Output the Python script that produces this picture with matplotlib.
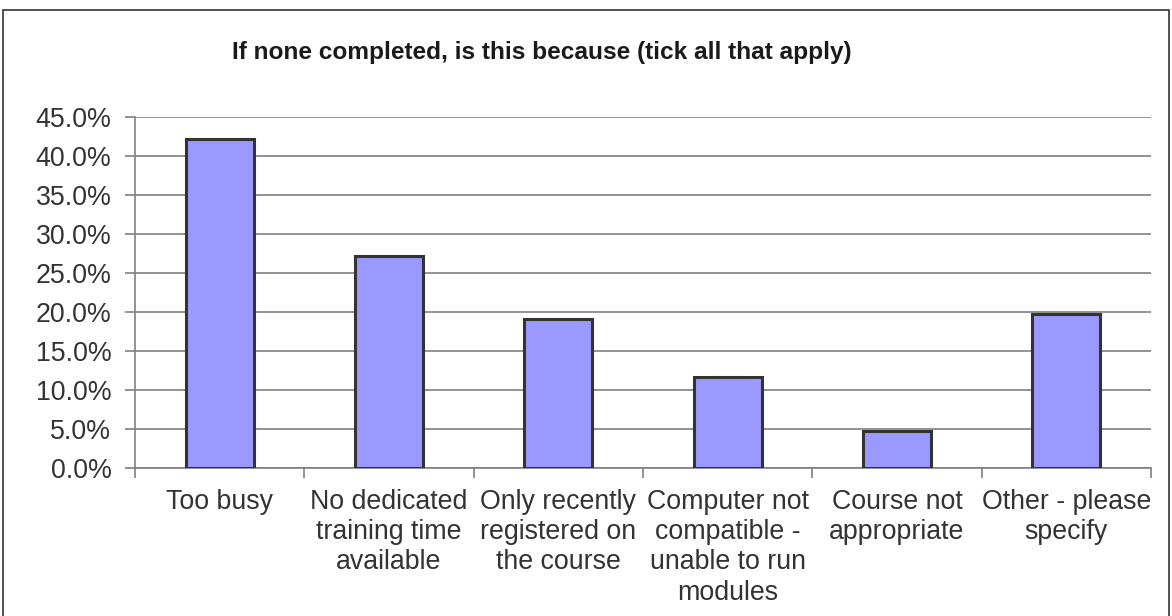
import matplotlib.pyplot as plt
from matplotlib.patches import Rectangle
from matplotlib.ticker import FuncFormatter, MultipleLocator

categories = [
    "Too busy",
    "No dedicated\ntraining time\navailable",
    "Only recently\nregistered on\nthe course",
    "Computer not\ncompatible -\nunable to run\nmodules",
    "Course not\nappropriate",
    "Other - please\nspecify",
]
values = [42.2, 27.2, 19.0, 11.6, 4.7, 19.7]

plt.rcParams['font.family'] = ['Liberation Sans', 'DejaVu Sans']

fig = plt.figure(figsize=(11.72, 6.16), dpi=100)
ax = fig.add_axes([135 / 1172, 1 - 467.7 / 616, (1151 - 135) / 1172, (467.7 - 116.7) / 616])

# outer chart frame
fig.patches.append(Rectangle((3 / 1172, -0.01), 1166 / 1172, 1 - 10 / 616 + 0.01,
                             transform=fig.transFigure, fill=False,
                             edgecolor='#333333', linewidth=1.2))

x = range(len(categories))
ax.bar(x, values, width=0.4, color='#9999FF', edgecolor='#333333', linewidth=2.2, zorder=3)

ax.set_xlim(-0.5, len(categories) - 0.5)
ax.set_ylim(0, 45)
ax.yaxis.set_major_locator(MultipleLocator(5))
ax.yaxis.set_major_formatter(FuncFormatter(lambda v, p: f"{v:.1f}%"))
ax.grid(axis='y', color='#808080', linewidth=1.2, zorder=0)

ax.set_xticks([i - 0.5 for i in range(len(categories) + 1)], minor=False)
ax.set_xticklabels([])
ax.set_xticks(list(x), minor=True)
ax.set_xticklabels(categories, minor=True, fontsize=19.3, color='#333333', linespacing=1.22)
ax.tick_params(axis='x', which='minor', length=0, pad=15)
ax.tick_params(axis='x', which='major', length=7, color='#808080', width=1.2)
ax.tick_params(axis='y', length=7, color='#808080', width=1.2, labelsize=19.3,
               labelcolor='#333333', pad=10)

for s in ['top', 'right']:
    ax.spines[s].set_visible(False)
for s in ['left', 'bottom']:
    ax.spines[s].set_color('#808080')
    ax.spines[s].set_linewidth(1.2)

fig.text(542 / 1172, 1 - 52 / 616, "If none completed, is this because (tick all that apply)",
         ha='center', va='center', fontsize=17.6, fontweight='bold', color='#1a1a1a',
         family=['Liberation Sans Narrow', 'Liberation Sans', 'DejaVu Sans'])

fig.savefig("out.png", dpi=100)
